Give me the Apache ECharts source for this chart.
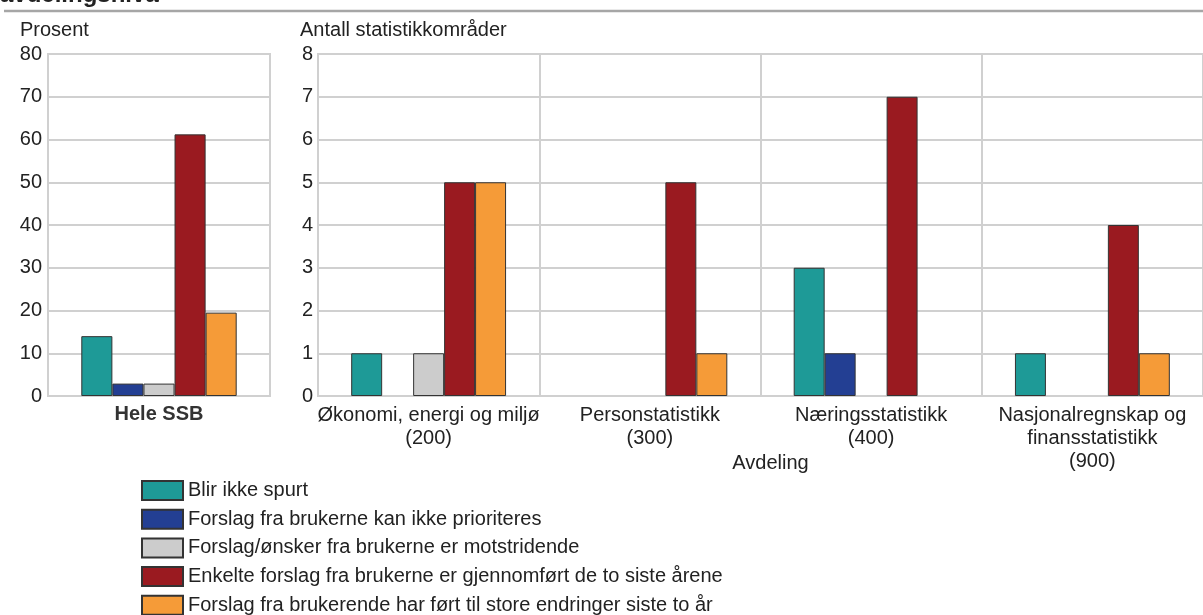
<!DOCTYPE html>
<html>
<head>
<meta charset="utf-8">
<script src="https://cdn.jsdelivr.net/npm/echarts@6/dist/echarts.min.js"></script>
<style>
  html, body { margin: 0; padding: 0; background: #fff; }
  #chart { width: 1203px; height: 615px; }
</style>
</head>
<body>
<div id="chart"></div>
<script>
// data
var seriesNames = [
  "Blir ikke spurt",
  "Forslag fra brukerne kan ikke prioriteres",
  "Forslag/ønsker fra brukerne er motstridende",
  "Enkelte forslag fra brukerne er gjennomført de to siste årene",
  "Forslag fra brukerende har ført til store endringer siste to år"
];
var colors = ["#1e9a97", "#233f93", "#cccccc", "#9a1a20", "#f59b38"];

var totalCategories = ["Hele SSB"];
var totalPercent = [14.0, 2.9, 2.9, 61.2, 19.5];

var deptCategories = [
  "Økonomi, energi og miljø\n(200)",
  "Personstatistikk\n(300)",
  "Næringsstatistikk\n(400)",
  "Nasjonalregnskap og\nfinansstatistikk\n(900)"
];
var ikkeSpurt = [1, 0, 3, 1];
var ikkePrioriteres = [0, 0, 1, 0];
var motstridende = [1, 0, 0, 0];
var gjennomfort = [5, 5, 7, 4];
var storeEndringer = [5, 1, 0, 1];
var deptValues = [ikkeSpurt, ikkePrioriteres, motstridende, gjennomfort, storeEndringer];

var font = "'Liberation Sans', Arial, sans-serif";
var gridColor = "#d0d0d0";
var textColor = "#222";

(function () {
  var mychart = echarts.init(document.getElementById("chart"));
  var series = [];
  // venstre: hele SSB i prosent
  seriesNames.forEach(function (name, i) {
    series.push({
      name: name,
      type: "bar",
      xAxisIndex: 0,
      yAxisIndex: 0,
      barGap: 0,
      barCategoryGap: "30%",
      itemStyle: { color: colors[i], borderColor: "#333", borderWidth: 1 },
      data: [totalPercent[i]]
    });
  });
  // høyre: antall per avdeling (0 = ingen søyle)
  seriesNames.forEach(function (name, i) {
    series.push({
      name: name,
      type: "bar",
      xAxisIndex: 1,
      yAxisIndex: 1,
      barGap: 0,
      barCategoryGap: "30%",
      itemStyle: { color: colors[i], borderColor: "#333", borderWidth: 1 },
      data: deptValues[i].map(function (v) { return v === 0 ? null : v; })
    });
  });

  var option = {
    animation: false,
    textStyle: { fontFamily: font },
    title: [
      { text: "avdelingsnivå", left: 0, top: -17, padding: 0, textStyle: { fontFamily: font, fontSize: 24, fontWeight: "bold", color: textColor } },
      { text: "Prosent", left: 20, top: 20, padding: 0, textStyle: { fontFamily: font, fontSize: 20, fontWeight: "normal", color: textColor } },
      { text: "Antall statistikkområder", left: 300, top: 20, padding: 0, textStyle: { fontFamily: font, fontSize: 20, fontWeight: "normal", color: textColor } }
    ],
    graphic: [
      { type: "line", shape: { x1: 4, y1: 11, x2: 1203, y2: 11 }, style: { stroke: "#a6a6a6", lineWidth: 2.5 } }
    ],
    legend: {
      orient: "vertical",
      left: 141,
      top: 480,
      height: 200,
      padding: 0,
      itemWidth: 41,
      itemHeight: 19,
      itemGap: 7.7,
      icon: "rect",
      textStyle: { fontFamily: font, fontSize: 20, color: textColor },
      data: seriesNames
    },
    grid: [
      { left: 48, width: 222, top: 54, height: 342, show: true, borderColor: gridColor, borderWidth: 2 },
      { left: 318, width: 892, top: 54, height: 342, show: true, borderColor: gridColor, borderWidth: 2 }
    ],
    xAxis: [
      {
        type: "category",
        gridIndex: 0,
        data: totalCategories,
        axisLine: { lineStyle: { color: gridColor, width: 2 } },
        axisTick: { show: false },
        axisLabel: { fontSize: 20, fontWeight: "bold", color: "#333", margin: 8 }
      },
      {
        type: "category",
        gridIndex: 1,
        data: deptCategories,
        name: "Avdeling",
        nameLocation: "middle",
        nameGap: 57,
        nameMoveOverlap: false,
        nameTextStyle: { fontSize: 20, color: textColor, padding: [0, 0, 0, 20] },
        axisLine: { lineStyle: { color: gridColor, width: 2 } },
        axisTick: { show: false },
        splitLine: { show: true, interval: 0, lineStyle: { color: gridColor, width: 2 } },
        axisLabel: { interval: 0, fontSize: 20, color: textColor, margin: 8, lineHeight: 23 }
      }
    ],
    yAxis: [
      {
        type: "value",
        gridIndex: 0,
        min: 0,
        max: 80,
        interval: 10,
        axisLine: { show: false },
        axisTick: { show: false },
        axisLabel: { fontSize: 20, color: textColor, margin: 6, padding: [3, 0, 0, 0] },
        splitLine: { lineStyle: { color: gridColor, width: 2 } }
      },
      {
        type: "value",
        gridIndex: 1,
        min: 0,
        max: 8,
        interval: 1,
        axisLabel: { fontSize: 20, color: textColor, margin: 5, padding: [1, 0, 0, 0] },
        axisLine: { show: false },
        axisTick: { show: false },
        splitLine: { lineStyle: { color: gridColor, width: 2 } }
      }
    ],
    series: series
  };
  mychart.setOption(option);
})();
</script>
</body>
</html>
